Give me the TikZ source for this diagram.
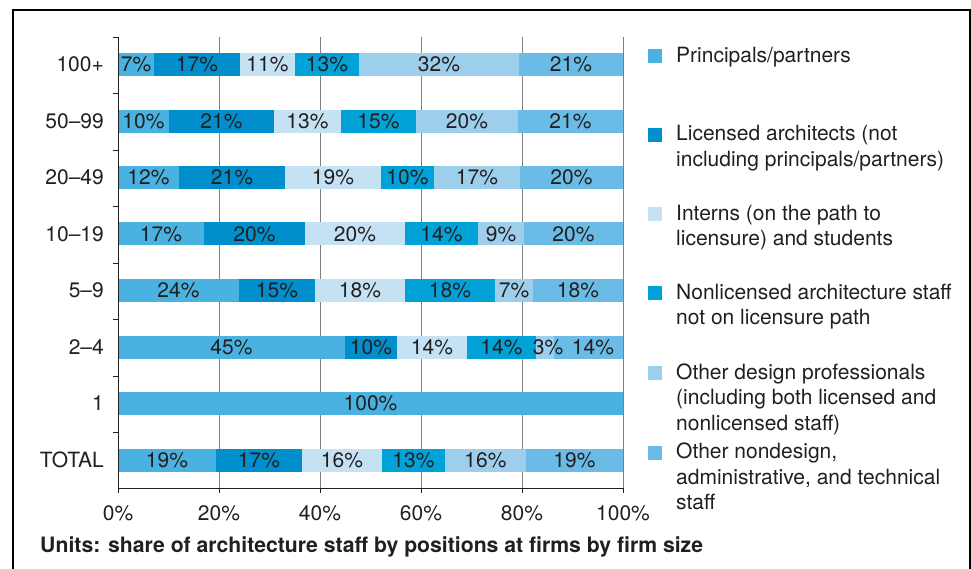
\documentclass[tikz,border=0pt]{standalone}
\usepackage{fontspec}
\setmainfont{TeX Gyre Heros}
\definecolor{txt}{RGB}{35,31,32}
\definecolor{pp}{RGB}{74,178,224}
\definecolor{la}{RGB}{0,143,204}
\definecolor{in}{RGB}{197,226,244}
\definecolor{nl}{RGB}{0,162,216}
\definecolor{od}{RGB}{157,207,236}
\definecolor{nd}{RGB}{106,188,230}
\begin{document}
\begin{tikzpicture}[x=1pt,y=-1pt,
    pct/.style={text=txt,inner sep=0pt,font=\fontsize{21}{25.5}\selectfont},
    lab/.style={pct,anchor=east},
    tick/.style={pct,anchor=base},
    key/.style={pct,anchor=base west,align=left},
    sq/.style={minimum size=14pt,inner sep=0pt}]
\useasboundingbox (0,0) rectangle (971,569);
\draw[line width=1.3pt] (13,569) -- (13,10) -- (970,10) -- (970,569);
\draw[color=gray] (219,37) -- (219,488) (320,37) -- (320,488) (421,37) -- (421,488)
    (522,37) -- (522,488) (623,37) -- (623,488);
% 100+
\fill[fill=pp] (118,53) rectangle (154,76) node[pct] (a1) at (136,64.5) {7\%};
\fill[fill=la] (154,53) rectangle (240,76) node[pct] (a2) at (197,64.5) {17\%};
\fill[fill=in] (240,53) rectangle (295,76) node[pct] (a3) at (267.5,64.5) {11\%};
\fill[fill=nl] (295,53) rectangle (359,76) node[pct] (a4) at (327,64.5) {13\%};
\fill[fill=od] (359,53) rectangle (519,76) node[pct] (a5) at (439,64.5) {32\%};
\fill[fill=nd] (519,53) rectangle (623,76) node[pct] (a6) at (571,64.5) {21\%};
% 50-99
\fill[fill=pp] (118,110) rectangle (169,133) node[pct] (b1) at (143.5,121.5) {10\%};
\fill[fill=la] (169,110) rectangle (274,133) node[pct] (b2) at (221.5,121.5) {21\%};
\fill[fill=in] (274,110) rectangle (341,133) node[pct] (b3) at (307.5,121.5) {13\%};
\fill[fill=nl] (341,110) rectangle (416,133) node[pct] (b4) at (378.5,121.5) {15\%};
\fill[fill=od] (416,110) rectangle (518,133) node[pct] (b5) at (467,121.5) {20\%};
\fill[fill=nd] (518,110) rectangle (623,133) node[pct] (b6) at (570.5,121.5) {21\%};
% 20-49
\fill[fill=pp] (118,166) rectangle (179,189) node[pct] (c1) at (148.5,177.5) {12\%};
\fill[fill=la] (179,166) rectangle (285,189) node[pct] (c2) at (232,177.5) {21\%};
\fill[fill=in] (285,166) rectangle (381,189) node[pct] (c3) at (333,177.5) {19\%};
\fill[fill=nl] (381,166) rectangle (434,189) node[pct] (c4) at (407.5,177.5) {10\%};
\fill[fill=od] (434,166) rectangle (520,189) node[pct] (c5) at (477,177.5) {17\%};
\fill[fill=nd] (520,166) rectangle (623,189) node[pct] (c6) at (571.5,177.5) {20\%};
% 10-19
\fill[fill=pp] (118,222.5) rectangle (204,245.5) node[pct] (d1) at (161,234) {17\%};
\fill[fill=la] (204,222.5) rectangle (305,245.5) node[pct] (d2) at (254.5,234) {20\%};
\fill[fill=in] (305,222.5) rectangle (405,245.5) node[pct] (d3) at (355,234) {20\%};
\fill[fill=nl] (405,222.5) rectangle (478,245.5) node[pct] (d4) at (441.5,234) {14\%};
\fill[fill=od] (478,222.5) rectangle (524,245.5) node[pct] (d5) at (501,234) {9\%};
\fill[fill=nd] (524,222.5) rectangle (623,245.5) node[pct] (d6) at (573.5,234) {20\%};
% 5-9
\fill[fill=pp] (118,279) rectangle (239,302) node[pct] (e1) at (178.5,290.5) {24\%};
\fill[fill=la] (239,279) rectangle (315,302) node[pct] (e2) at (277,290.5) {15\%};
\fill[fill=in] (315,279) rectangle (405,302) node[pct] (e3) at (360,290.5) {18\%};
\fill[fill=nl] (405,279) rectangle (495,302) node[pct] (e4) at (450,290.5) {18\%};
\fill[fill=od] (495,279) rectangle (533,302) node[pct] (e5) at (514,290.5) {7\%};
\fill[fill=nd] (533,279) rectangle (623,302) node[pct] (e6) at (578,290.5) {18\%};
% 2-4
\fill[fill=pp] (118,335.5) rectangle (345,358.5);
\fill[fill=la] (345,335.5) rectangle (397,358.5);
\fill[fill=in] (397,335.5) rectangle (467,358.5);
\fill[fill=nl] (467,335.5) rectangle (536,358.5);
\fill[fill=od] (536,335.5) rectangle (554,358.5);
\fill[fill=nd] (554,335.5) rectangle (623,358.5);
\node[pct] (f1) at (231.5,347) {45\%};
\node[pct] (f2) at (371,347) {10\%};
\node[pct] (f3) at (432,347) {14\%};
\node[pct] (f4) at (501.5,347) {14\%};
\node[pct] (f5) at (548,347) {3\%};
\node[pct] (f6) at (593,347) {14\%};
% 1
\fill[fill=pp] (118,392) rectangle (623,415) node[pct] (g1) at (370.5,403.5) {100\%};
% TOTAL
\fill[fill=pp] (118,448.5) rectangle (216,471.5) node[pct] (h1) at (167,460) {19\%};
\fill[fill=la] (216,448.5) rectangle (302,471.5) node[pct] (h2) at (259,460) {17\%};
\fill[fill=in] (302,448.5) rectangle (382,471.5) node[pct] (h3) at (342,460) {16\%};
\fill[fill=nl] (382,448.5) rectangle (445,471.5) node[pct] (h4) at (413.5,460) {13\%};
\fill[fill=od] (445,448.5) rectangle (526,471.5) node[pct] (h5) at (485.5,460) {16\%};
\fill[fill=nd] (526,448.5) rectangle (623,471.5) node[pct] (h6) at (574.5,460) {19\%};
% axes
\draw[color=txt] (118,37) -- (118,488) -- (623,488);
\draw[color=txt] (113,37) -- (118,37) (113,93.5) -- (118,93.5) (113,150) -- (118,150)
    (113,206.5) -- (118,206.5) (113,263) -- (118,263) (113,319.5) -- (118,319.5)
    (113,376) -- (118,376) (113,432.5) -- (118,432.5);
\draw[color=txt] (118,488) -- (118,493) (219,488) -- (219,493) (320,488) -- (320,493)
    (421,488) -- (421,493) (522,488) -- (522,493) (623,488) -- (623,493);
\node[lab] (r1) at (104,64.5) {100+};
\node[lab] (r2) at (104,121.5) {50–99};
\node[lab] (r3) at (104,177.5) {20–49};
\node[lab] (r4) at (104,234) {10–19};
\node[lab] (r5) at (104,290.5) {5–9};
\node[lab] (r6) at (104,347) {2–4};
\node[lab] (r7) at (104,403.5) {1};
\node[lab] (r8) at (104,460) {TOTAL};
\node[tick] (x0) at (118,520) {0\%};
\node[tick] (x1) at (219,520) {20\%};
\node[tick] (x2) at (320,520) {40\%};
\node[tick] (x3) at (421,520) {60\%};
\node[tick] (x4) at (522,520) {80\%};
\node[tick] (x5) at (623,520) {100\%};
\node[pct,anchor=base west,font=\fontsize{21.2}{25.5}\selectfont\bfseries] (u) at (40,552)
    {Units: share of architecture staff by positions at firms by firm size};
% legend
\node[sq,fill=pp] (k1) at (655,56.5) {};
\node[key] (l1) at (676,62.5) {Principals/partners};
\node[sq,fill=la] (k2) at (655,135) {};
\node[key] (l2) at (676,166.5) {Licensed architects (not\\including principals/partners)};
\node[sq,fill=in] (k3) at (655,214.5) {};
\node[key] (l3) at (676,246) {Interns (on the path to\\licensure) and students};
\node[sq,fill=nl] (k4) at (655,293) {};
\node[key] (l4) at (676,324.5) {Nonlicensed architecture staff\\not on licensure path};
\node[sq,fill=od] (k5) at (655,373) {};
\node[key] (l5) at (676,430) {Other design professionals\\(including both licensed and\\nonlicensed staff)};
\node[sq,fill=nd] (k6) at (655,452.5) {};
\node[key] (l6) at (676,509.5) {Other nondesign,\\administrative, and technical\\staff};
\end{tikzpicture}
\end{document}
